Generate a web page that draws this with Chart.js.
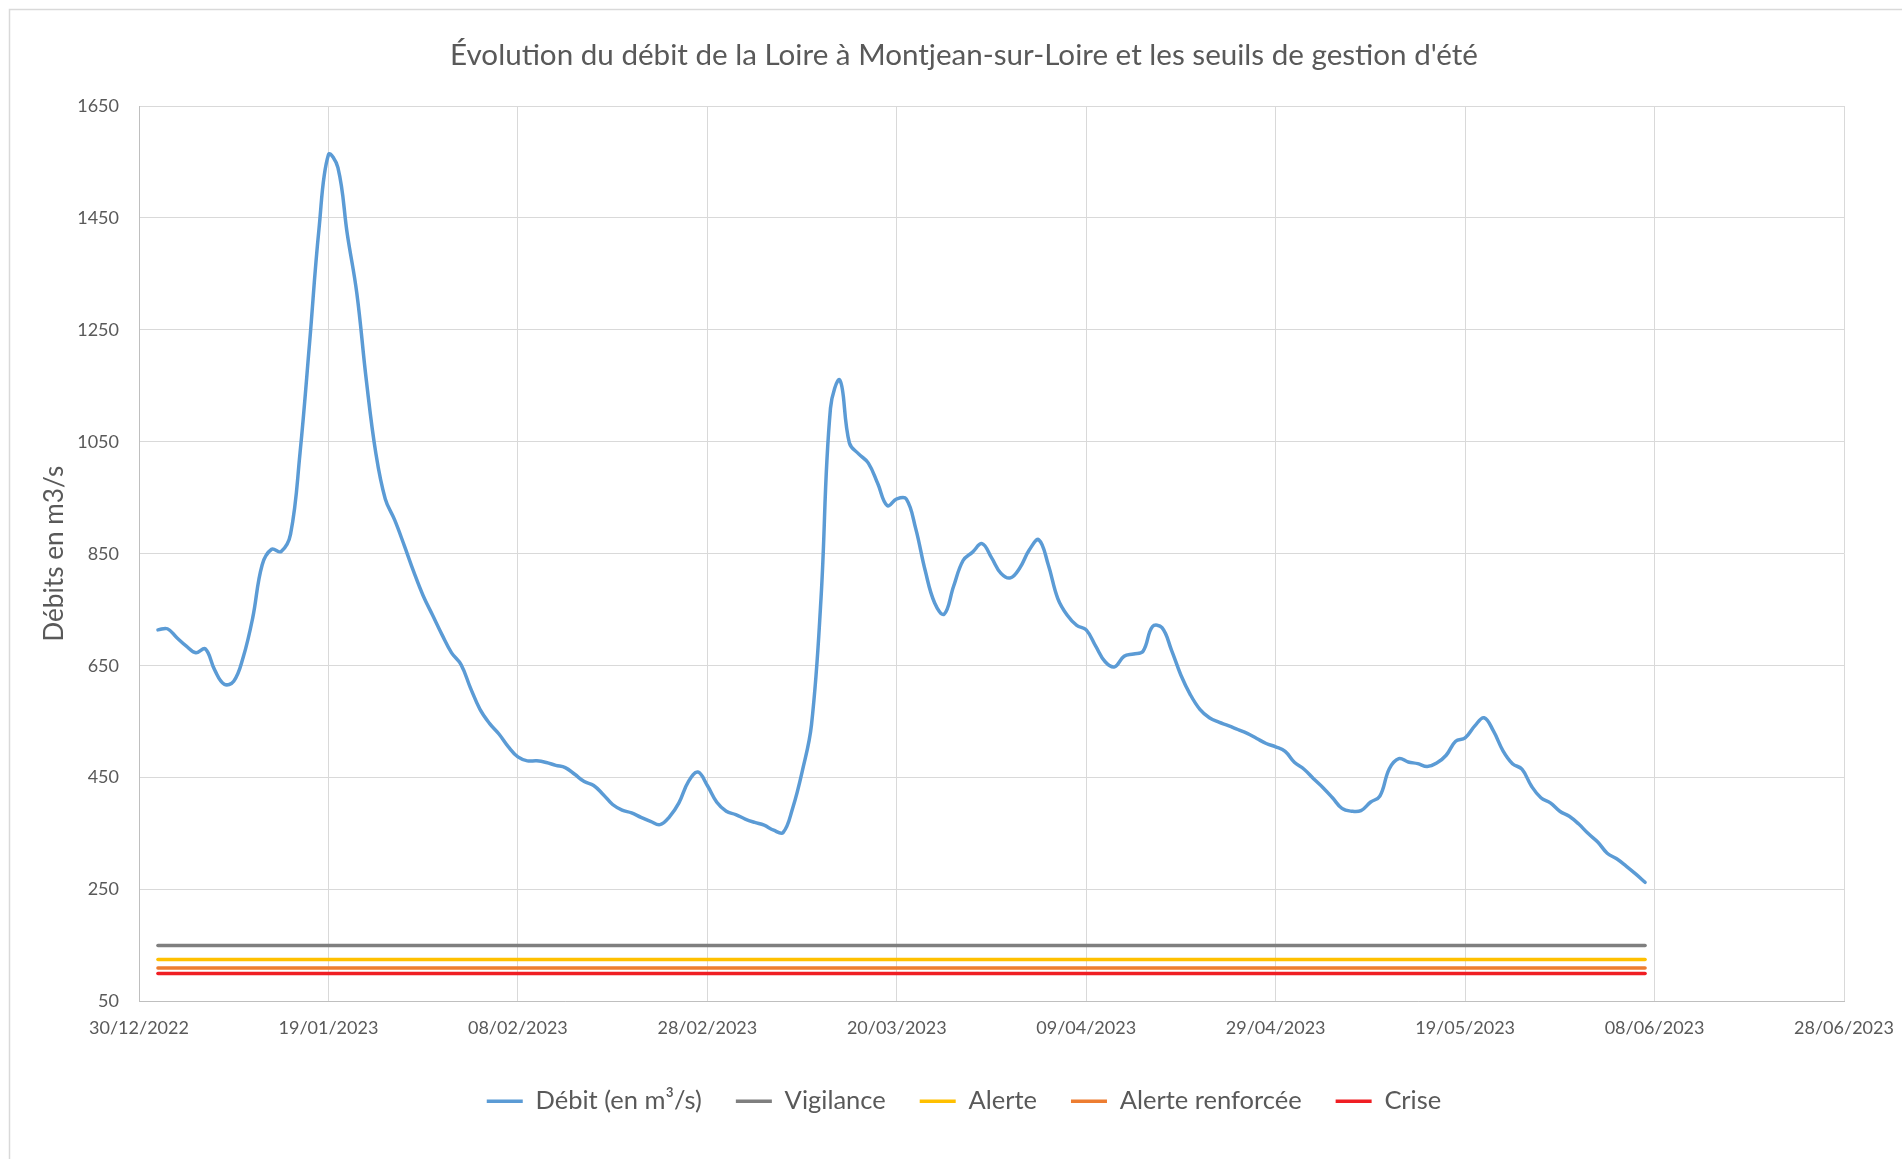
<!DOCTYPE html>
<html lang="fr">
<head>
<meta charset="utf-8">
<title>Débit de la Loire à Montjean-sur-Loire</title>
<script src="https://cdn.jsdelivr.net/npm/chart.js@4.4.1/dist/chart.umd.min.js"></script>
<style>
  html, body { margin: 0; padding: 0; background: #ffffff; }
  #wrap { width: 1902px; height: 1159px; position: relative; }
</style>
</head>
<body>
<div id="wrap"><canvas id="graphique" width="1902" height="1159"></canvas></div>
<script>
// Axe des dates : origine et libellés des graduations (tous les 20 jours)
const origineAxe = '2022-12-30';
const finAxe = '2023-06-28';
const libellesDates = ['30/12/2022', '19/01/2023', '08/02/2023', '28/02/2023', '20/03/2023',
                       '09/04/2023', '29/04/2023', '19/05/2023', '08/06/2023', '28/06/2023'];

// Graduations de l'axe des débits
const debitMin = 50;
const debitMax = 1650;
const pasDebit = 200;

// Débit journalier (m³/s), du 01/01/2023 au 07/06/2023
const dateDebut = '2023-01-01';
const debits = [
  714, 716, 700, 685, 673, 680, 642, 617, 622, 665,            // 01/01 - 10/01
  735, 830, 858, 854, 885, 1030, 1225, 1430, 1563, 1540,       // 11/01 - 20/01
  1420, 1315, 1160, 1030, 948, 910, 865, 818, 775, 740,        // 21/01 - 30/01
  705, 673, 652, 610, 572, 547, 528, 505, 487, 480,            // 31/01 - 09/02
  480, 477, 472, 468, 456, 443, 436, 420, 402, 392,            // 10/02 - 19/02
  387, 379, 372, 366, 380, 405, 443, 460, 436, 406,            // 20/02 - 01/03
  390, 384, 376, 370, 365, 356, 352, 395, 460, 545,            // 02/03 - 11/03
  770, 1110, 1160, 1048, 1028, 1012, 975, 936, 948, 948,       // 12/03 - 21/03
  895, 820, 762, 742, 792, 838, 853, 868, 843, 815,            // 22/03 - 31/03
  807, 825, 857, 875, 830, 770, 740, 722, 714, 685,            // 01/04 - 10/04
  657, 648, 667, 671, 676, 720, 718, 678, 633, 598,            // 11/04 - 20/04
  572, 557, 549, 543, 536, 529, 520, 511, 505, 497,            // 21/04 - 30/04
  477, 465, 448, 432, 414, 395, 390, 391, 406, 417,            // 01/05 - 10/05
  466, 484, 478, 475, 470, 476, 490, 515, 521, 542,            // 11/05 - 20/05
  557, 533, 498, 475, 465, 435, 414, 405, 390, 381,            // 21/05 - 30/05
  367, 350, 335, 315, 305, 292, 278, 263                       // 31/05 - 07/06
];

// Seuils de gestion d'été (m³/s)
const seuilNoms = ['Vigilance', 'Alerte', 'Alerte renforcée', 'Crise'];
const seuilValeurs = [150, 125, 110, 100];

// Styles
const couleurDebit = '#5B9BD5';
const couleursSeuils = ['#7F7F7F', '#FFC000', '#ED7D31', '#F01E23'];
const couleurTexte = '#595959';
const couleurGrille = '#D9D9D9';
const police = 'Lato, "Open Sans", "Liberation Sans", sans-serif';

const JOUR = 86400000;
const jourDepuisOrigine = d => Math.round((Date.parse(d) - Date.parse(origineAxe)) / JOUR);
const premierJour = jourDepuisOrigine(dateDebut);
const dernierJour = premierJour + debits.length - 1;
const jourMax = jourDepuisOrigine(finAxe);

const pointsDebit = debits.map((v, i) => ({ x: premierJour + i, y: v }));

const jeuxSeuils = seuilNoms.map((nom, i) => ({
  label: nom,
  data: [{ x: premierJour, y: seuilValeurs[i] }, { x: dernierJour, y: seuilValeurs[i] }],
  borderColor: couleursSeuils[i],
  backgroundColor: couleursSeuils[i],
  borderWidth: 3.5,
  pointRadius: 0,
  tension: 0,
  borderCapStyle: 'round'
}));

// Cadre extérieur léger autour du graphique
const cadre = {
  id: 'cadre',
  beforeDraw(chart) {
    const ctx = chart.ctx;
    ctx.save();
    ctx.strokeStyle = couleurGrille;
    ctx.lineWidth = 1.5;
    ctx.beginPath();
    ctx.moveTo(9.5, chart.height);
    ctx.lineTo(9.5, 9.5);
    ctx.lineTo(chart.width, 9.5);
    ctx.stroke();
    ctx.restore();
  }
};

new Chart(document.getElementById('graphique'), {
  type: 'line',
  data: {
    datasets: [{
      label: 'Débit (en m³/s)',
      data: pointsDebit,
      borderColor: couleurDebit,
      backgroundColor: couleurDebit,
      borderWidth: 3.5,
      pointRadius: 0,
      tension: 0.4,
      borderCapStyle: 'round',
      borderJoinStyle: 'round'
    }].concat(jeuxSeuils)
  },
  options: {
    responsive: false,
    devicePixelRatio: 1,
    animation: false,
    parsing: false,
    layout: { padding: { left: 26, right: 0, top: 0, bottom: 35 } },
    plugins: {
      tooltip: { enabled: false },
      title: {
        display: true,
        text: "Évolution du débit de la Loire à Montjean-sur-Loire et les seuils de gestion d'été",
        color: couleurTexte,
        font: { family: police, size: 29.6, weight: 'normal' },
        padding: { top: 37.2, bottom: 33.3 }
      },
      legend: {
        position: 'bottom',
        labels: {
          color: couleurTexte,
          font: { family: police, size: 25.5 },
          usePointStyle: true,
          pointStyle: 'line',
          pointStyleWidth: 36,
          boxHeight: 26,
          padding: 34
        }
      }
    },
    scales: {
      x: {
        type: 'linear',
        min: 0,
        max: jourMax,
        afterFit: s => { s.height = 53; s.paddingRight = 58; s.paddingLeft = 0; },
        border: { display: true, color: '#BFBFBF', width: 1 },
        grid: { color: couleurGrille, lineWidth: 1, drawTicks: false },
        ticks: {
          stepSize: 20,
          autoSkip: false,
          maxRotation: 0,
          padding: 16,
          color: couleurTexte,
          font: { family: police, size: 18 },
          callback: (v, i) => libellesDates[i]
        }
      },
      y: {
        min: debitMin,
        max: debitMax,
        afterFit: s => { s.width = 113; },
        border: { display: true, color: '#BFBFBF', width: 1 },
        grid: { color: couleurGrille, lineWidth: 1, drawTicks: false },
        ticks: {
          stepSize: pasDebit,
          padding: 20,
          color: couleurTexte,
          font: { family: police, size: 18 },
          callback: v => String(v)
        },
        title: {
          display: true,
          text: 'Débits en m3/s',
          color: couleurTexte,
          font: { family: police, size: 26.2 },
          padding: { top: 13.3, bottom: 0 }
        }
      }
    }
  },
  plugins: [cadre]
});
</script>
</body>
</html>
